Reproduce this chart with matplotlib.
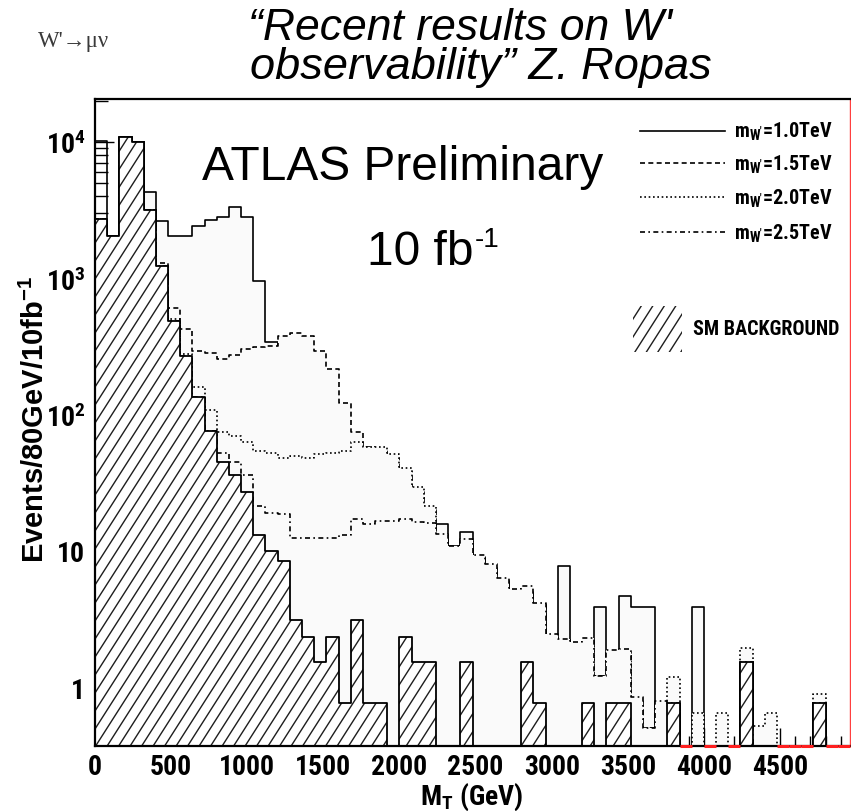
import numpy as np
import matplotlib
matplotlib.use("Agg")
import matplotlib.pyplot as plt
from matplotlib import font_manager as fm
from matplotlib.collections import LineCollection
from matplotlib.patches import Polygon, Rectangle
from matplotlib.ticker import MultipleLocator, LogLocator, NullFormatter

# ---------------- data (events per 80 GeV bin, 0 .. 4960 GeV) ----------------
bin_width = 80
n_bins = 62

bkg = [2720, 2050, 10820, 10050, 3185, 1240, 488, 270, 134, 76,
       44.6, 36, 26.9, 13.0, 10.0, 8.45, 3.09, 2.32, 1.54, 2.32,
       0.77, 3.09, 0.77, 0.77, 0, 2.32, 1.54, 1.54, 0, 0,
       1.54, 0, 0, 0, 0, 1.54, 0.77, 0, 0, 0,
       0.77, 0, 0.77, 0.77, 0, 0, 0, 0.77, 0, 0,
       0, 0, 0, 1.54, 0, 0, 0, 0, 0, 0.77,
       0, 0]

sig_1000 = [10220, 2050, 10820, 10050, 4320, 2645, 2050, 2050, 2430, 2690,
            2800, 3350, 2800, 960, 339, 200, 120, 80, 55, 40,
            32, 26, 22, 19, 17, 16, 15, 15, 15.7, 10.9,
            13.7, 9.0, 7.5, 6.0, 5.0, 5.0, 4.0, 2.3, 7.77, 2.0,
            2.0, 3.9, 1.85, 4.66, 3.9, 3.9, 0, 0.77, 0, 3.9,
            0, 0, 0, 1.54, 0, 0, 0, 0, 0, 0.77,
            0, 0]

sig_1500 = [2720, 2050, 10820, 10050, 3185, 1295, 605, 424, 294, 283,
            258, 273, 303, 311, 320, 375, 397, 375, 293, 216,
            122, 74, 58, 55, 48, 38, 27, 20, 12, 10,
            11, 9, 7, 6, 5, 5, 4, 2.3, 2.2, 2.0,
            2.0, 1.2, 1.8, 1.8, 0.8, 0.5, 0.77, 0.77, 0, 0,
            0, 0, 0, 1.54, 0, 0, 0, 0, 0, 0.77,
            0, 0]

sig_2000 = [2720, 2050, 10820, 10050, 3185, 1240, 500, 280, 160, 109,
            74, 70, 62.6, 54.3, 52.7, 48.4, 49.9, 48.4, 51.3, 52,
            54.3, 62.6, 57.6, 57.6, 51.3, 40.9, 29.2, 21.3, 13, 10.5,
            12, 9, 7.5, 6, 5, 5, 4, 2.3, 2.2, 2.0,
            2.2, 1.2, 1.8, 1.8, 0.8, 0.5, 0.77, 1.18, 0, 0.65,
            0, 0.65, 0, 1.95, 0.52, 0.65, 0, 0, 0, 0.89,
            0, 0]

sig_2500 = [2720, 2050, 10820, 10050, 3185, 1240, 488, 270, 134, 76,
            52, 44.6, 35.8, 21.3, 19.1, 18.6, 12.5, 12.5, 12.5, 12.5,
            13.0, 17.1, 15.7, 16.6, 16.6, 17.1, 16.2, 16.0, 13.2, 10.9,
            12.2, 9.3, 8.0, 6.37, 5.24, 5.54, 4.18, 2.45, 2.25, 2.13,
            2.31, 1.21, 1.88, 1.9, 0.84, 0.5, 0.79, 0.77, 0, 0,
            0, 0, 0, 1.54, 0, 0, 0, 0, 0, 0.77,
            0, 0]

signal_labels = ["1.0", "1.5", "2.0", "2.5"]
x_ticks = [0, 500, 1000, 1500, 2000, 2500, 3000, 3500, 4000, 4500]
y_ticks = [1, 10, 100, 1000, 10000]
y_tick_labels = ["1", "10", r"$\mathregular{10^{2}}$", r"$\mathregular{10^{3}}$",
                 r"$\mathregular{10^{4}}$"]

# ---------------- fonts ----------------
def pick_narrow():
    entries = fm.fontManager.ttflist
    names = {f.name for f in entries}
    for nm in ["Liberation Sans Narrow", "Arial Narrow", "Roboto Condensed",
               "Noto Sans Condensed", "Open Sans Condensed", "DejaVu Sans Condensed"]:
        if nm in names:
            return dict(fontfamily=nm, fontstretch="normal"), True
    for fam in ["Liberation Sans", "Noto Sans", "Roboto", "Open Sans", "DejaVu Sans"]:
        for f in entries:
            try:
                w = int(f.weight)
            except (TypeError, ValueError):
                w = 700 if str(f.weight) == "bold" else 400
            if f.name == fam and str(f.stretch) in ("condensed", "semi-condensed",
                                                   "extra-condensed") and w >= 600:
                return dict(fontfamily=fam, fontstretch="condensed"), True
    return dict(fontfamily="Liberation Sans", fontstretch="normal"), False

NF, HAVE_NARROW = pick_narrow()
TICK_FS = 20 if HAVE_NARROW else 17
LEG_FS = 14.5 if HAVE_NARROW else 11.5
XLAB_FS = 20 if HAVE_NARROW else 17.5

# ---------------- layout ----------------
FIG_W, FIG_H = 851, 812
AX_L, AX_R, AX_T, AX_B = 95, 850, 100, 747
AW, AH = AX_R - AX_L, AX_B - AX_T

fig = plt.figure(figsize=(FIG_W / 100, FIG_H / 100), dpi=100)
fig.patch.set_facecolor("white")
ax = fig.add_axes([AX_L / FIG_W, 1 - AX_B / FIG_H, AW / FIG_W, AH / FIG_H])
ax.set_facecolor("white")

def fx(px):
    return px / FIG_W

def fy(py):
    return 1 - py / FIG_H

def axx(px):
    return (px - AX_L) / AW

def axy(py):
    return (AX_B - py) / AH

edges = np.arange(n_bins + 1) * bin_width
FLOOR = 1e-3

def step_xy(vals):
    v = np.asarray(vals, dtype=float)
    v = np.where(v > 0, v, FLOOR)
    xs = np.concatenate([[edges[0]], np.repeat(edges[1:-1], 2), [edges[-1]]])
    ys = np.repeat(v, 2)
    xs = np.concatenate([[edges[0]], xs, [edges[-1]]])
    ys = np.concatenate([[FLOOR], ys, [FLOOR]])
    return xs, ys

ax.set_yscale("log")
ax.set_xlim(0, n_bins * bin_width)
ax.set_ylim(0.37, 20700)

FILL = "#fafafa"
styles = ["-", (0, (3.0, 2.0)), (0, (1.0, 1.6)), (0, (3.0, 2.0, 1.0, 2.0))]
signals = [sig_1000, sig_1500, sig_2000, sig_2500]
for k, (sig, ls) in enumerate(zip(signals, styles)):
    fill_vals = np.array(sig, dtype=float)
    if k == 0:
        fill_vals[:2] = np.array(bkg[:2])  # lowest bins left unfilled
    fxs, fys = step_xy(fill_vals)
    ax.fill(fxs, fys, color=FILL, lw=0, zorder=3 + k)
    xs, ys = step_xy(sig)
    ax.plot(xs, ys, color="black", lw=1.2, ls=ls, zorder=3.1 + k)

# background: white fill, custom hatch, black outline
bx, by = step_xy(bkg)
bkg_patch = Polygon(np.column_stack([bx, by]), closed=True, facecolor="white",
                    edgecolor="none", zorder=8)
ax.add_patch(bkg_patch)

HATCH_DX = 11.5
HATCH_SLOPE = 18.0 / 11.5

def hatch(clip_patch, zorder):
    run = AH / HATCH_SLOPE
    starts = np.arange(-run, AW + HATCH_DX, HATCH_DX)
    segs = [[(s / AW, 0), ((s + run) / AW, 1)] for s in starts]
    lc = LineCollection(segs, transform=ax.transAxes, colors="#1e1e1e",
                        linewidths=1.0, zorder=zorder)
    ax.add_collection(lc, autolim=False)
    lc.set_clip_path(clip_patch)

hatch(bkg_patch, 8.05)
ax.plot(bx, by, color="black", lw=1.3, zorder=8.1)

# bins where every histogram is empty -> red baseline segments
all_zero = np.all(np.array([bkg] + signals) == 0, axis=0)
ylo = ax.get_ylim()[0]
for i in np.where(all_zero)[0]:
    ax.plot([edges[i], edges[i + 1]], [ylo, ylo], color="#ff2020", lw=2.2,
            zorder=21, clip_on=False, solid_capstyle="butt")

# axes / ticks
ax.set_axisbelow(True)
for s in ["left", "bottom", "top"]:
    ax.spines[s].set_linewidth(1.6)
    ax.spines[s].set_zorder(20)
ax.spines["right"].set_color("#ff4040")
ax.spines["right"].set_linewidth(1.0)
ax.spines["right"].set_zorder(20)

ax.set_xticks(x_ticks, labels=[str(t) for t in x_ticks], fontweight="bold",
              fontsize=TICK_FS, **NF)
ax.xaxis.set_minor_locator(MultipleLocator(100))
ax.set_yticks(y_ticks, labels=y_tick_labels, fontweight="bold", fontsize=TICK_FS, **NF)
ax.yaxis.set_minor_locator(LogLocator(base=10, subs=range(2, 10)))
ax.yaxis.set_minor_formatter(NullFormatter())
ax.tick_params(axis="x", which="major", direction="in", length=13, width=1.0, pad=5,
               top=False)
ax.tick_params(axis="x", which="minor", direction="in", length=7, width=1.0, top=False)
ax.tick_params(axis="y", which="major", direction="in", length=14, width=1.0, pad=7,
               right=False)
ax.tick_params(axis="y", which="minor", direction="in", length=9, width=1.0, right=False)

# legend (drawn manually)
leg_rows = [131.7, 164.3, 198.3, 233.3]
for lab, ls, yr in zip(signal_labels, styles, leg_rows):
    ax.plot([axx(640), axx(725)], [axy(yr), axy(yr)], transform=ax.transAxes,
            color="black", lw=1.2, ls=ls, zorder=30, clip_on=False)
    fig.text(fx(734), fy(yr + 6.0), "m$_{\\mathregular{W'}}$=" + lab + "TeV",
             fontweight="bold", fontsize=LEG_FS, va="baseline", ha="left", **NF)
leg_box = Rectangle((axx(633), axy(353)), axx(682) - axx(633), axy(307) - axy(353),
                    transform=ax.transAxes, facecolor="none", edgecolor="none", zorder=30)
ax.add_patch(leg_box)
hatch(leg_box, 30)
fig.text(fx(693), fy(330), "SM BACKGROUND", fontweight="bold",
         fontsize=LEG_FS, va="center", ha="left", **NF)

# annotations
renderer = fig.canvas.get_renderer()
fig.text(fx(202), fy(180), "ATLAS Preliminary", fontfamily="Liberation Sans",
         fontsize=34.5, va="baseline", ha="left")
t10 = fig.text(fx(367), fy(265), "10 fb", fontfamily="Liberation Sans",
               fontsize=34.5, va="baseline", ha="left")
bb = t10.get_window_extent(renderer=renderer)
fig.text((bb.x1 + 1) / FIG_W, fy(247), "-1", fontfamily="Liberation Sans",
         fontsize=20, va="baseline", ha="left")

fig.text(fx(248), fy(40), "\u201cRecent results on W'", fontfamily="Liberation Sans",
         style="italic", fontsize=32, va="baseline", ha="left")
fig.text(fx(250), fy(79), "observability\u201d Z. Ropas", fontfamily="Liberation Sans",
         style="italic", fontsize=32.5, va="baseline", ha="left")
fig.text(fx(38), fy(47), "W'\u2192\u03bc\u03bd", fontfamily=["Liberation Serif", "DejaVu Serif"],
         fontsize=16.5, color="#3a3a3a", va="baseline", ha="left")

fig.text(fx(35), fy(419), "Events/80GeV/10fb$^{\\mathregular{-1}}$", rotation=90,
         fontfamily="Liberation Sans", fontweight="bold", fontsize=21,
         ha="center", va="center")
fig.text(fx(472), fy(797), "M$_{\\mathregular{T}}$ (GeV)", fontweight="bold",
         fontsize=XLAB_FS, ha="center", va="center", **NF)

fig.savefig("out.png", dpi=100)
